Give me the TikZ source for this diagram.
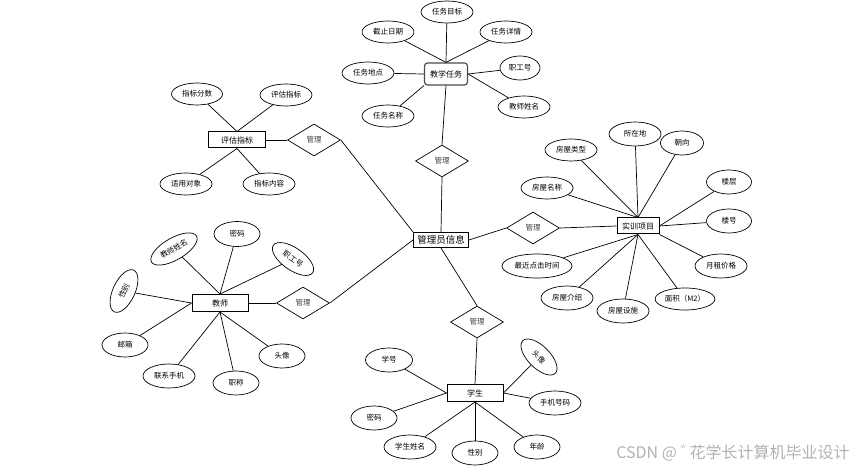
\documentclass[tikz,border=0pt]{standalone}
\usepackage{fontspec}
\setmainfont{Noto Sans CJK SC}
\usetikzlibrary{shapes.geometric, positioning}

\begin{document}
\begin{tikzpicture}[x=1pt, y=-1pt, line width=0.7pt,
        entity/.style={draw, rectangle, line width=1pt, fill=white, minimum width=56pt, minimum height=16pt, inner sep=1pt, font=\fontsize{8}{9}\selectfont},
        attr/.style={draw, ellipse, fill=white, minimum width=46pt, minimum height=22pt, inner sep=1pt, font=\fontsize{7.5}{9}\selectfont},
        rel/.style={draw, diamond, aspect=1.65, minimum width=53pt, minimum height=32pt, inner sep=0pt, fill=white, font=\fontsize{7.5}{9}\selectfont, text=black!75}]
        \useasboundingbox (0,0) rectangle (861,470);

        % entities
        \node[entity, minimum width=55pt, minimum height=15pt, font=\fontsize{9.5}{11}\selectfont] (m) at (441,240) {管理员信息};
        \node[entity, rounded corners=3pt, draw=black!70, line width=1.2pt, minimum width=43pt, minimum height=22pt] (task) at (446,74) {教学任务};
        \node[entity, minimum width=57pt] (eval) at (237,140) {评估指标};
        \node[entity, minimum width=42pt] (proj) at (638,226) {实训项目};
        \node[entity, minimum height=17pt] (tch) at (220,303) {教师};
        \node[entity, minimum height=17pt] (stu) at (475,393) {学生};

        % relations
        \node[rel] (r1) at (442,161) {管理};
        \node[rel] (r2) at (314,140) {管理};
        \node[rel] (r3) at (533,228) {管理};
        \node[rel] (r4) at (303,303) {管理};
        \node[rel] (r5) at (477,322) {管理};

        % attributes of 教学任务
        \node[attr, minimum width=52pt] (task1) at (447,12) {任务目标};
        \node[attr, minimum width=52pt] (task2) at (388,32) {截止日期};
        \node[attr, minimum width=52pt] (task3) at (506,32) {任务详情};
        \node[attr, minimum width=52pt] (task4) at (368,73) {任务地点};
        \node[attr, minimum width=40pt, minimum height=24pt] (task5) at (520,68) {职工号};
        \node[attr, minimum width=52pt] (task6) at (524,107) {教师姓名};
        \node[attr, minimum width=52pt] (task7) at (388,116) {任务名称};

        % attributes of 评估指标
        \node[attr, minimum width=51pt] (eval1) at (197,94) {指标分数};
        \node[attr, minimum width=52pt] (eval2) at (286,95) {评估指标};
        \node[attr, minimum width=52pt] (eval3) at (186,184) {适用对象};
        \node[attr, minimum width=52pt] (eval4) at (269,184) {指标内容};

        % attributes of 实训项目
        \node[attr, minimum width=52pt, minimum height=24pt] (proj1) at (635,134) {所在地};
        \node[attr, minimum width=43pt, minimum height=24pt] (proj2) at (682,143) {朝向};
        \node[attr, minimum width=52pt] (proj3) at (571,150) {房屋类型};
        \node[attr, minimum width=52pt] (proj4) at (547,188) {房屋名称};
        \node[attr, minimum width=45pt, minimum height=24pt] (proj5) at (729,182) {楼层};
        \node[attr, minimum width=45pt, minimum height=24pt] (proj6) at (729,221) {楼号};
        \node[attr, minimum width=52pt, minimum height=24pt] (proj7) at (721,266) {月租价格};
        \node[attr, minimum width=57pt] (proj8) at (685,299) {面积（M2）};
        \node[attr, minimum width=52pt, minimum height=24pt] (proj9) at (623,311) {房屋设施};
        \node[attr, minimum width=52pt, minimum height=24pt] (proj10) at (567,298) {房屋介绍};
        \node[attr, minimum width=70pt, minimum height=24pt] (proj11) at (537,266) {最近点击时间};

        % attributes of 教师
        \node[attr, minimum height=25pt] (tch1) at (237,234) {密码};
        \node[attr, minimum width=52pt, rotate=30] (tch2) at (174,249) {教师姓名};
        \node[attr, minimum width=48pt, rotate=-35] (tch3) at (293,259) {职工号};
        \node[attr, rotate=65] (tch4) at (124,291) {性别};
        \node[attr, minimum height=24pt] (tch5) at (125,345) {邮箱};
        \node[attr, minimum width=52pt, minimum height=24pt] (tch6) at (169,376) {联系手机};
        \node[attr, minimum height=24pt] (tch7) at (236,383) {职称};
        \node[attr, minimum height=24pt] (tch8) at (282,356) {头像};

        % attributes of 学生
        \node[attr, minimum width=47pt, minimum height=24pt] (stu1) at (389,360) {学号};
        \node[attr, rotate=-45] (stu2) at (539,357) {头像};
        \node[attr, minimum width=52pt, minimum height=24pt] (stu3) at (555,403) {手机号码};
        \node[attr, minimum height=24pt] (stu4) at (374,418) {密码};
        \node[attr, minimum width=52pt, minimum height=24pt] (stu5) at (410,447) {学生姓名};
        \node[attr, minimum height=24pt] (stu6) at (475,453) {性别};
        \node[attr, minimum height=24pt] (stu7) at (537,447) {年龄};

        \node[text=black!30, font=\fontsize{16}{18}\selectfont] (wm) at (733,453) {CSDN @ ゛\hspace{-7pt}花学长计算机毕业设计};

        \draw
            (task.north) edge (task1)
            (task.north) edge (task2)
            (task.north) edge (task3)
            (task.west) edge (task4)
            (task.east) edge (task5)
            (task.east) edge (task6)
            (task.south west) edge (task7)
            (task.south) edge (r1.north)
            (r1.south) edge (m.north)
            (eval.north) edge (eval1)
            (eval.north) edge (eval2)
            (eval.south) edge (eval3)
            (eval.south) edge (eval4)
            (eval.east) edge (r2.west)
            (r2.east) edge (m.north west)
            (m.east) edge (r3.west)
            (r3.east) edge (proj.west)
            (proj.north) edge (proj1)
            (proj.north) edge (proj2)
            (proj.north) edge (proj3)
            (proj.north) edge (proj4)
            (proj.east) edge (proj5)
            (proj.east) edge (proj6)
            (proj.south east) edge (proj7)
            (proj.south) edge (proj8)
            (proj.south) edge (proj9)
            (proj.south) edge (proj10)
            (proj.south) edge (proj11)
            (tch.north) edge (tch1)
            (tch.north) edge (tch2)
            (tch.north) edge (tch3)
            (tch.west) edge (tch4)
            (tch.west) edge (tch5)
            (tch.south) edge (tch6)
            (tch.south) edge (tch7)
            (tch.south) edge (tch8)
            (tch.east) edge (r4.west)
            (r4.east) edge (m.west)
            (m.south) edge (r5.north)
            (r5.south) edge (stu.north)
            (stu.west) edge (stu1)
            (stu.east) edge (stu2)
            (stu.east) edge (stu3)
            (stu.west) edge (stu4)
            (stu.south) edge (stu5)
            (stu.south) edge (stu6)
            (stu.south) edge (stu7);
    \end{tikzpicture}
\end{document}
